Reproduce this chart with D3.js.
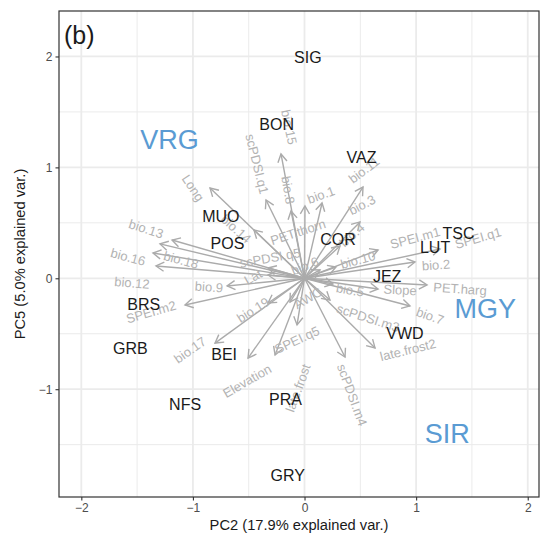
<!DOCTYPE html>
<html lang="en">
<head>
    <meta charset="UTF-8">
    <title>PCA biplot (b)</title>
    <script src="https://cdn.jsdelivr.net/npm/d3@7"></script>
    <style>
        body { margin: 0; background: #fff; }
        text { font-family: "Liberation Sans", Arial, sans-serif; }
        .grid line { stroke: #ebebeb; }
        .tick-label { fill: #4d4d4d; font-size: 12px; }
        .axis-title { fill: #1a1a1a; font-size: 14.7px; }
        .var-label { fill: #b3b3b3; font-size: 13px; }
        .site { fill: #1a1a1a; font-size: 16px; }
        .group { fill: #5a9bd3; font-size: 27px; }
    </style>
</head>
<body>
<script>
    // sites (sample scores)
    const siteNames = ["SIG", "BON", "VAZ", "MUO", "POS", "COR", "TSC", "LUT", "JEZ", "BRS", "GRB", "VWD", "BEI", "NFS", "PRA", "GRY"];
    const siteX = [0.03, -0.25, 0.51, -0.75, -0.69, 0.30, 1.38, 1.17, 0.74, -1.44, -1.56, 0.90, -0.72, -1.07, -0.17, -0.15];
    const siteY = [1.99, 1.39, 1.09, 0.56, 0.31, 0.35, 0.40, 0.28, 0.02, -0.24, -0.63, -0.50, -0.69, -1.14, -1.09, -1.78];

    // group labels
    const groupNames = ["VRG", "MGY", "SIR"];
    const groupX = [-1.21, 1.62, 1.28];
    const groupY = [1.25, -0.28, -1.40];

    // loadings (arrow tips), label positions and label angles
    const varNames = ["bio.15", "bio.8", "scPDSI.q1", "Long", "bio.14", "PET.thorn", "bio.1", "bio.11", "bio.3", "bio.4",
        "bio.10", "bio.6", "scPDSI.q5", "Lat", "SPEI.m1", "SPEI.q1", "bio.2", "PET.harg", "Slope", "bio.5",
        "bio.7", "scPDSI.m3", "late.frost2", "scPDSI.m4", "late.frost", "SPEI.q5", "AWC", "Elevation", "bio.19", "bio.17",
        "bio.9", "SPEI.m2", "bio.12", "bio.16", "bio.18", "bio.13"];
    const varX = [-0.211, -0.121, -0.345, -0.847, -0.453, 0.004, 0.157, 0.524, 0.497, 0.318,
        0.282, 0.139, -0.327, -0.327, 0.659, 1.214, 0.990, 1.098, 0.659, 0.255,
        0.945, 0.228, 0.632, 0.363, -0.067, -0.264, -0.130, -0.506, -0.327, -0.802,
        -0.694, -1.071, -1.331, -1.358, -1.295, -1.187];
    const varY = [1.121, 0.607, 0.706, 0.814, 0.436, 0.652, 0.679, 0.823, 0.508, 0.291,
        0.102, 0.075, 0.093, 0.030, 0.255, 0.264, 0.147, -0.060, -0.096, -0.051,
        -0.250, -0.196, -0.629, -0.710, -0.421, -0.692, -0.214, -0.719, -0.223, -0.584,
        -0.069, -0.241, 0.111, 0.228, 0.310, 0.345];
    const labX = [-0.139, -0.148, -0.426, -0.999, -0.614, -0.058, 0.148, 0.533, 0.515, 0.426,
        0.479, 0.004, -0.309, -0.461, 0.990, 1.555, 1.178, 1.393, 0.856, 0.408,
        1.124, 0.569, 0.927, 0.426, -0.058, -0.067, 0.031, -0.515, -0.461, -1.026,
        -0.856, -1.375, -1.546, -1.582, -1.107, -1.420];
    const labY = [1.364, 0.796, 1.031, 0.814, 0.445, 0.417, 0.751, 0.976, 0.661, 0.390,
        0.165, 0.111, 0.183, 0.012, 0.363, 0.363, 0.120, -0.096, -0.105, -0.105,
        -0.340, -0.358, -0.647, -1.052, -0.989, -0.556, -0.178, -0.926, -0.286, -0.647,
        -0.078, -0.304, -0.042, 0.192, 0.165, 0.445];
    const labAngle = [78, 80, 76, 56, 42, -18, -20, -37, -28, -42,
        -15, -22, -10, -30, -15, -16, -4, 4, 3, 10,
        20, 18, -14, 70, -70, -25, -30, -30, -32, -35,
        4, -16, 5, 15, 15, 18];

    const xTicks = [-2, -1, 0, 1, 2];
    const yTicks = [-1, 0, 1, 2];
    const xMinor = [-1.5, -0.5, 0.5, 1.5];
    const yMinor = [-1.5, -0.5, 0.5, 1.5];

    const W = 545, H = 541;
    const panel = {left: 59, right: 539, top: 11, bottom: 497};

    const x = d3.scaleLinear().domain([-2.2, 2.101]).range([panel.left, panel.right]);
    const y = d3.scaleLinear().domain([-1.972, 2.41]).range([panel.bottom, panel.top]);

    const svg = d3.select("body").append("svg").attr("width", W).attr("height", H);

    // arrow head
    svg.append("defs").append("marker")
        .attr("id", "head")
        .attr("viewBox", "-10 -6 12 12")
        .attr("markerUnits", "userSpaceOnUse")
        .attr("markerWidth", 12).attr("markerHeight", 12)
        .attr("refX", 0).attr("refY", 0)
        .attr("orient", "auto")
        .append("path")
        .attr("d", "M-8,-4.6L0,0L-8,4.6")
        .attr("fill", "none")
        .attr("stroke", "#ababab")
        .attr("stroke-width", 1.4);

    // grid
    const grid = svg.append("g").attr("class", "grid");
    grid.selectAll(".vmin").data(xMinor).enter().append("line")
        .attr("x1", d => x(d)).attr("x2", d => x(d)).attr("y1", panel.top).attr("y2", panel.bottom)
        .attr("stroke-width", 1);
    grid.selectAll(".hmin").data(yMinor).enter().append("line")
        .attr("y1", d => y(d)).attr("y2", d => y(d)).attr("x1", panel.left).attr("x2", panel.right)
        .attr("stroke-width", 1);
    grid.selectAll(".vmaj").data(xTicks).enter().append("line")
        .attr("x1", d => x(d)).attr("x2", d => x(d)).attr("y1", panel.top).attr("y2", panel.bottom)
        .attr("stroke-width", 1.8);
    grid.selectAll(".hmaj").data(yTicks).enter().append("line")
        .attr("y1", d => y(d)).attr("y2", d => y(d)).attr("x1", panel.left).attr("x2", panel.right)
        .attr("stroke-width", 1.8);

    // arrows
    svg.append("g").selectAll("line").data(varNames).enter().append("line")
        .attr("x1", x(0)).attr("y1", y(0))
        .attr("x2", (d, i) => x(varX[i])).attr("y2", (d, i) => y(varY[i]))
        .attr("stroke", "#ababab")
        .attr("stroke-width", 1.4)
        .attr("marker-end", "url(#head)");

    // variable labels
    svg.append("g").selectAll("text").data(varNames).enter().append("text")
        .attr("class", "var-label")
        .attr("text-anchor", "middle")
        .attr("dominant-baseline", "central")
        .attr("transform", (d, i) => "translate(" + x(labX[i]) + "," + y(labY[i]) + ") rotate(" + labAngle[i] + ")")
        .text(d => d);

    // sites
    svg.append("g").selectAll("text").data(siteNames).enter().append("text")
        .attr("class", "site")
        .attr("text-anchor", "middle")
        .attr("dominant-baseline", "central")
        .attr("x", (d, i) => x(siteX[i]))
        .attr("y", (d, i) => y(siteY[i]))
        .text(d => d);

    // groups
    svg.append("g").selectAll("text").data(groupNames).enter().append("text")
        .attr("class", "group")
        .attr("text-anchor", "middle")
        .attr("dominant-baseline", "central")
        .attr("x", (d, i) => x(groupX[i]))
        .attr("y", (d, i) => y(groupY[i]))
        .text(d => d);

    // panel border
    svg.append("rect")
        .attr("x", panel.left).attr("y", panel.top)
        .attr("width", panel.right - panel.left).attr("height", panel.bottom - panel.top)
        .attr("fill", "none").attr("stroke", "#333").attr("stroke-width", 1.2);

    // axes
    const fmt = d => d < 0 ? "\u2212" + Math.abs(d) : String(d);
    const xAxis = svg.append("g").attr("transform", "translate(0," + panel.bottom + ")")
        .call(d3.axisBottom(x).tickValues(xTicks).tickSize(3.5).tickPadding(3).tickFormat(fmt));
    const yAxis = svg.append("g").attr("transform", "translate(" + panel.left + ",0)")
        .call(d3.axisLeft(y).tickValues(yTicks).tickSize(3.5).tickPadding(3).tickFormat(fmt));
    [xAxis, yAxis].forEach(a => {
        a.select(".domain").remove();
        a.selectAll(".tick line").attr("stroke", "#333").attr("stroke-width", 1.1);
        a.selectAll(".tick text").attr("class", "tick-label").attr("font-family", null).attr("font-size", null);
    });

    svg.append("text").attr("class", "axis-title")
        .attr("x", (panel.left + panel.right) / 2).attr("y", 530)
        .attr("text-anchor", "middle")
        .text("PC2 (17.9% explained var.)");
    svg.append("text").attr("class", "axis-title")
        .attr("transform", "translate(25," + (panel.top + panel.bottom) / 2 + ") rotate(-90)")
        .attr("text-anchor", "middle")
        .text("PC5 (5.0% explained var.)");

    svg.append("text")
        .attr("x", 64).attr("y", 44)
        .attr("font-size", 25).attr("fill", "#1a1a1a")
        .text("(b)");
</script>
</body>
</html>
